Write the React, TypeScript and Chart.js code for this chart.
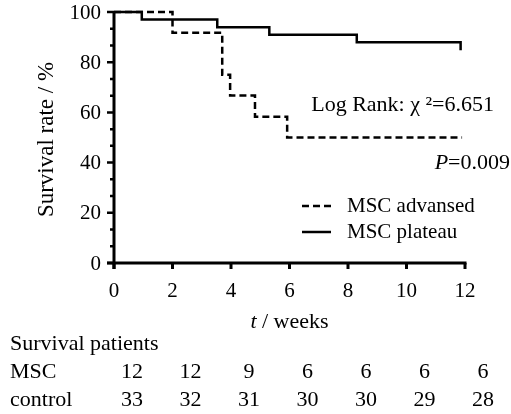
import React, { useEffect, useRef } from "react";
import { Chart, registerables } from "chart.js";

Chart.register(...registerables);

const weeks = [0, 2, 4, 6, 8, 10, 12];
const yTicks = [0, 20, 40, 60, 80, 100];
const mscCounts = [12, 12, 9, 6, 6, 6, 6];
const controlCounts = [33, 32, 31, 30, 30, 29, 28];
const advancedTimes = [0, 2.0, 3.7, 3.97, 4.82, 5.92, 11.9];
const advancedSurvival = [100, 91.7, 75, 66.7, 58.3, 50, 50];
const plateauTimes = [0, 0.95, 3.53, 5.31, 8.3, 11.85];
const plateauSurvival = [100, 97, 93.9, 90.9, 87.9, 84.8];

const SERIF = '"Liberation Serif", "DejaVu Serif", serif';

const decorPlugin = {
  id: "decor",
  afterDraw(chart: any) {
    const ctx = chart.ctx as CanvasRenderingContext2D;
    const xs = chart.scales.x;
    const ys = chart.scales.y;
    const x0 = xs.getPixelForValue(0);
    const x12 = xs.getPixelForValue(12);
    const y0 = ys.getPixelForValue(0);
    const y100 = ys.getPixelForValue(100);
    ctx.save();
    ctx.strokeStyle = "#000";
    ctx.fillStyle = "#000";
    ctx.lineCap = "butt";
    // axes
    ctx.lineWidth = 3;
    ctx.beginPath();
    ctx.moveTo(x0, y100 - 1);
    ctx.lineTo(x0, y0 + 6);
    ctx.moveTo(x0 - 7, y0);
    ctx.lineTo(x12 + 1.5, y0);
    ctx.stroke();
    // x ticks
    ctx.beginPath();
    weeks.forEach((w) => {
      const px = xs.getPixelForValue(w);
      ctx.moveTo(px, y0);
      ctx.lineTo(px, y0 + 6);
    });
    ctx.stroke();
    // y ticks major & minor
    ctx.lineWidth = 2.5;
    ctx.beginPath();
    for (let i = 0; i < yTicks.length; i++) {
      const v = yTicks[i];
      const py = ys.getPixelForValue(v);
      ctx.moveTo(x0 - 7, py);
      ctx.lineTo(x0, py);
      if (i < yTicks.length - 1) {
        const step = (yTicks[i + 1] - v) / 3;
        for (let k = 1; k < 3; k++) {
          const my = ys.getPixelForValue(v + step * k);
          ctx.moveTo(x0 - 4, my);
          ctx.lineTo(x0, my);
        }
      }
    }
    ctx.stroke();
    // tick labels
    ctx.font = `21px ${SERIF}`;
    ctx.textAlign = "right";
    ctx.textBaseline = "middle";
    yTicks.forEach((v) => {
      ctx.fillText(String(v), x0 - 13, ys.getPixelForValue(v) + 1);
    });
    ctx.textAlign = "center";
    weeks.forEach((w) => {
      ctx.fillText(String(w), xs.getPixelForValue(w), y0 + 28);
    });
    // y axis title
    ctx.font = `23px ${SERIF}`;
    ctx.save();
    ctx.translate(47, (y0 + y100) / 2 + 2);
    ctx.rotate(-Math.PI / 2);
    ctx.textAlign = "center";
    ctx.textBaseline = "middle";
    ctx.fillText("Survival rate / %", 0, 0);
    ctx.restore();
    // x title with italic t
    const cx = (x0 + x12) / 2;
    ctx.textBaseline = "middle";
    ctx.font = `italic 22px ${SERIF}`;
    const tW = ctx.measureText("t").width;
    ctx.font = `22px ${SERIF}`;
    const restW = ctx.measureText(" / weeks").width;
    const sx = cx - (tW + restW) / 2;
    ctx.textAlign = "left";
    ctx.font = `italic 22px ${SERIF}`;
    ctx.fillText("t", sx, 322);
    ctx.font = `22px ${SERIF}`;
    ctx.fillText(" / weeks", sx + tW, 322);
    // annotations
    ctx.font = `22px ${SERIF}`;
    ctx.textAlign = "right";
    ctx.fillText("Log Rank: χ ²=6.651", 494, 105);
    const pRest = "=0.009";
    const prW = ctx.measureText(pRest).width;
    ctx.fillText(pRest, 510, 163);
    ctx.font = `italic 22px ${SERIF}`;
    ctx.fillText("P", 510 - prW, 163);
    // legend
    ctx.lineWidth = 2.5;
    ctx.setLineDash([7, 4]);
    ctx.beginPath();
    ctx.moveTo(302, 206);
    ctx.lineTo(331, 206);
    ctx.stroke();
    ctx.setLineDash([]);
    ctx.beginPath();
    ctx.moveTo(302, 232);
    ctx.lineTo(331, 232);
    ctx.stroke();
    ctx.font = `21px ${SERIF}`;
    ctx.textAlign = "left";
    ctx.fillText("MSC advansed", 347, 206);
    ctx.fillText("MSC plateau", 347, 232);
    // survival table
    ctx.font = `22px ${SERIF}`;
    ctx.textAlign = "left";
    ctx.fillText("Survival patients", 10, 344);
    ctx.fillText("MSC", 10, 372);
    ctx.fillText("control", 10, 400);
    ctx.textAlign = "center";
    weeks.forEach((w, i) => {
      const px = xs.getPixelForValue(w) + 18;
      ctx.fillText(String(mscCounts[i]), px, 372);
      ctx.fillText(String(controlCounts[i]), px, 400);
    });
    ctx.restore();
  },
};

export default function App() {
  const ref = useRef<HTMLCanvasElement | null>(null);
  useEffect(() => {
    if (!ref.current) return;
    const chart = new Chart(ref.current, {
      type: "line",
      data: {
        datasets: [
          {
            label: "MSC advansed",
            data: advancedTimes.map((t, i) => ({ x: t, y: advancedSurvival[i] })),
            borderColor: "#000",
            borderWidth: 2.5,
            borderDash: [7, 4],
            stepped: "before",
            pointRadius: 0,
            fill: false,
            clip: false,
          } as any,
          {
            label: "MSC plateau",
            data: plateauTimes.map((t, i) => ({ x: t, y: plateauSurvival[i] })),
            borderColor: "#000",
            borderWidth: 2.5,
            stepped: "before",
            pointRadius: 0,
            fill: false,
            clip: false,
          } as any,
        ],
      },
      options: {
        responsive: false,
        animation: false,
        layout: { padding: { left: 114, right: 46, top: 12, bottom: 151 } },
        plugins: { legend: { display: false }, tooltip: { enabled: false } },
        scales: {
          x: { type: "linear", min: 0, max: 12, display: false },
          y: { type: "linear", min: 0, max: 100, display: false },
        },
      },
      plugins: [decorPlugin],
    });
    return () => chart.destroy();
  }, []);
  return (
    <div style={{ position: "absolute", left: 0, top: 0, width: 511, height: 414, background: "#fff" }}>
      <canvas ref={ref} width={511} height={414} />
    </div>
  );
}
